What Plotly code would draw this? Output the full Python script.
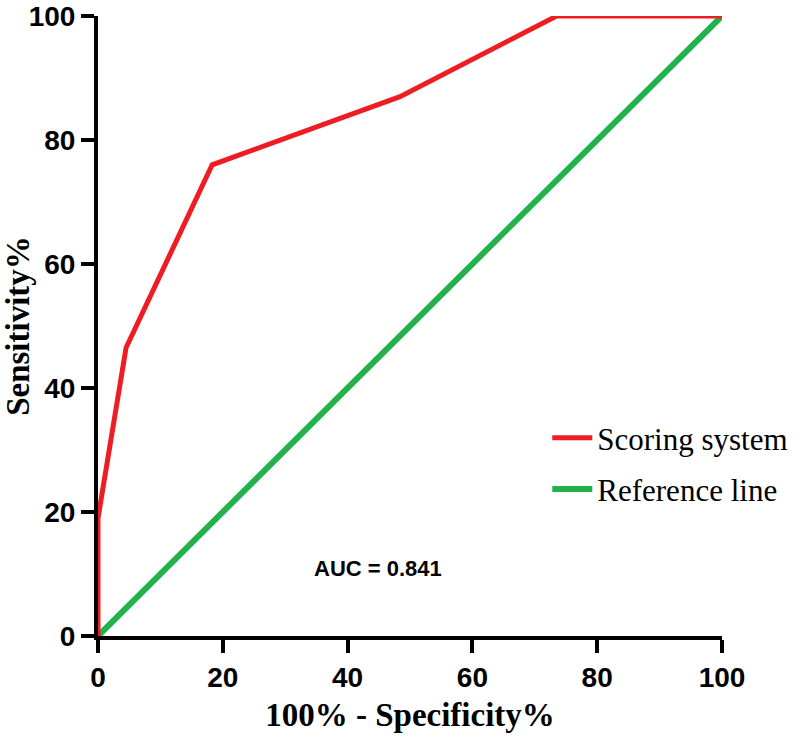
import plotly.graph_objects as go

# ROC data
fpr = [0, 0, 4.5, 18.3, 48.4, 73.5, 100]          # 100% - Specificity%
tpr = [0, 19, 46.5, 76, 87, 100, 100]             # Sensitivity%
ref_x = [0, 100]
ref_y = [0, 100]
tick_vals = [0, 20, 40, 60, 80, 100]
tick_text = ["0", "20", "40", "60", "80", "100"]
auc_label = "AUC = 0.841"

RED = "#EE1D23"
GREEN = "#22B24C"

fig = go.Figure()
fig.add_trace(go.Scatter(x=ref_x, y=ref_y, mode="lines", name="Reference line",
                         line=dict(color=GREEN, width=6), cliponaxis=False,
                         legendrank=2, legendgroup="b"))
fig.add_trace(go.Scatter(x=fpr, y=tpr, mode="lines", name="Scoring system",
                         line=dict(color=RED, width=5), cliponaxis=False,
                         legendrank=1, legendgroup="a"))

axis_common = dict(
    range=[0, 100], showgrid=False, zeroline=False, automargin=False,
    showline=True, linecolor="black", linewidth=4,
    ticks="outside", ticklen=13, tickwidth=4, tickcolor="black",
    tickvals=tick_vals, ticktext=tick_text, ticklabeloverflow="allow",
    tickfont=dict(family="Liberation Sans", size=28, color="black", weight="bold"),
)

fig.update_layout(
    width=800, height=742,
    margin=dict(l=98, r=78, t=16, b=106, autoexpand=False),
    paper_bgcolor="white", plot_bgcolor="white",
    xaxis=dict(**axis_common,
               title=dict(text="<b>100% - Specificity%</b>", standoff=12,
                          font=dict(family="Liberation Serif", size=33, color="black"))),
    yaxis=dict(**axis_common,
               title=dict(text="<b>Sensitivity%</b>", standoff=8,
                          font=dict(family="Liberation Serif", size=33, color="black"))),
    legend=dict(x=0.72, y=0.278, xanchor="left", yanchor="middle",
                font=dict(family="Liberation Serif", size=31, color="black"),
                bgcolor="rgba(0,0,0,0)", tracegroupgap=8, itemwidth=40),
    showlegend=True,
    annotations=[dict(text="<b>" + auc_label + "</b>", x=0.449, y=0.086,
                      xref="paper", yref="paper", showarrow=False,
                      font=dict(family="Liberation Sans", size=22, color="black"))],
)

fig.write_html(
    "out.html",
    config={"responsive": False, "displayModeBar": False},
    post_script="document.body.style.margin='0';document.body.style.overflow='hidden';",
)
